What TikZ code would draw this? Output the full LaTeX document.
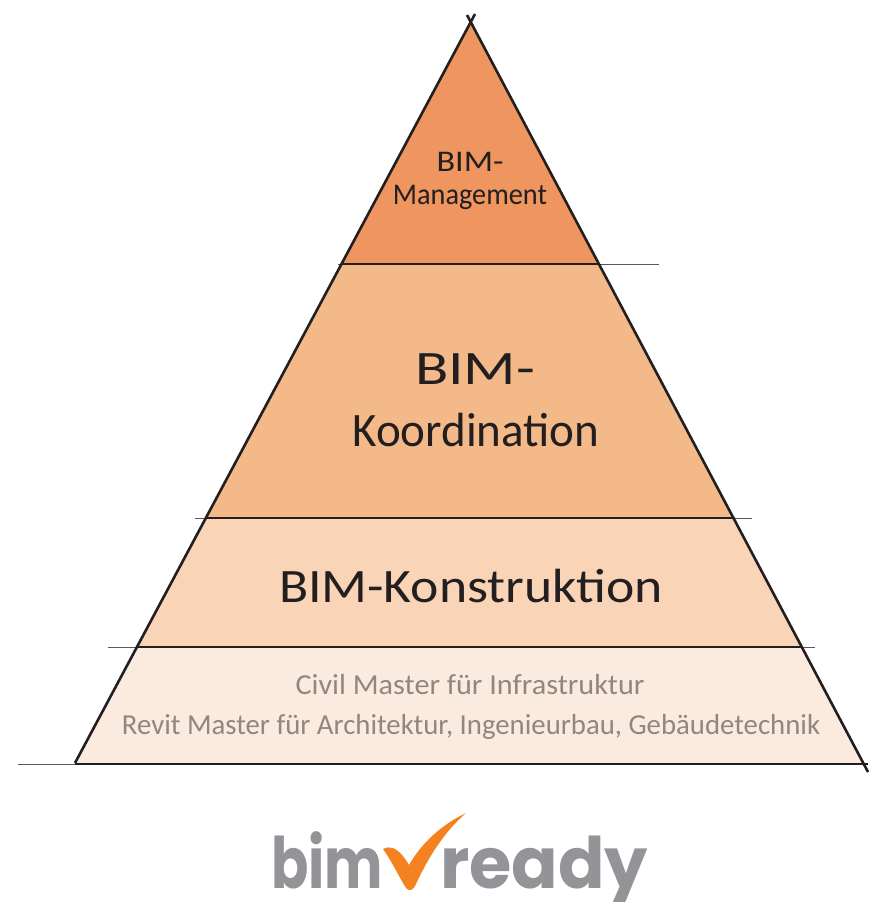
\documentclass[tikz,border=0pt]{standalone}
\usepackage{fontspec}
\setmainfont{Carlito}
\newfontfamily\logofont{Poppins}
\usepackage{tikz}
\definecolor{peakorange}{HTML}{EE9560}
\definecolor{midorange}{HTML}{F4B988}
\definecolor{lightorange}{HTML}{F9D4B6}
\definecolor{paleorange}{HTML}{FBEBDF}
\definecolor{logogray}{HTML}{929497}
\definecolor{logoorange}{HTML}{F58220}
\definecolor{basetext}{HTML}{8F8780}
\definecolor{pen}{HTML}{231F20}
\newcommand{\fitw}[2]{\resizebox{#1pt}{\height}{#2}}
\tikzset{l/.style={font=\fontsize{48}{48}\selectfont,text=pen,inner sep=0pt,anchor=base}}
\tikzset{m/.style={font=\fontsize{30}{30}\selectfont,text=pen,inner sep=0pt,anchor=base}}
\tikzset{s/.style={font=\fontsize{29}{29}\selectfont,text=basetext,inner sep=0pt,anchor=base}}
\tikzset{logo/.style={font=\logofont\bfseries\fontsize{71}{71}\selectfont,text=logogray,inner sep=0pt,anchor=base}}
\tikzset{side/.style={draw=pen,line width=2.6pt}}
\tikzset{rule/.style={draw=pen,line width=1.8pt}}
\tikzset{hair/.style={draw=pen!75,line width=1pt}}
\begin{document}
\begin{tikzpicture}[line join=round,x=1pt,y=-1pt]
\useasboundingbox (0,0) rectangle (868,902);
% tiers
\fill[peakorange](471,22)--(342,264)--(599,264)--cycle;
\fill[midorange](342,264)--(206,518)--(733,518)--(599,264)--cycle;
\fill[lightorange](206,518)--(137,647)--(801,647)--(733,518)--cycle;
\fill[paleorange](137,647)--(75,763)--(862,763)--(801,647)--cycle;
% overhangs
\draw[hair](338,264)--(659,264);
\draw[hair](195,518)--(752,518);
\draw[hair](108,647)--(815,647);
\draw[hair](18,764)--(868,764);
% rules
\draw[rule](342,264)--(599,264);
\draw[rule](206,518)--(733,518);
\draw[rule](137,647)--(801,647);
\draw[rule,line width=2.4pt](75,764)--(868,764);
% sides
\draw[side](475,14)--(75,763);
\draw[side](467,15)--(868,772);
% labels
\node[m] (mgmtA) at (470,171) {\fitw{67}{BIM-}};
\node[m] (mgmtB) at (470,204) {\fitw{154}{Management}};
\node[l] (koordA) at (475,384) {\fitw{120}{BIM-}};
\node[l] (koordB) at (476,446) {\fitw{247}{Koordination}};
\node[l] (konstr) at (471,602) {\fitw{384}{BIM-Konstruktion}};
\node[s] (civil) at (470,694) {\fitw{349}{Civil Master für Infrastruktur}};
\node[s] (revit) at (471,734) {\fitw{698}{Revit Master für Architektur, Ingenieurbau, Gebäudetechnik}};
% logo
\node[logo] (bim) at (327,888) {\fitw{112}{bim}};
\node[logo] (ready) at (544,888) {\fitw{208}{ready}};
\fill[logoorange](383,849)..controls (387,847) and (390,847) .. (393,848)..controls (400,851) and (405,858) .. (409,865)..controls (422,842) and (443,824) .. (466,813)..controls (444,832) and (428,858) .. (416,884)..controls (414,890) and (409,892) .. (406,888)..controls (398,875) and (391,860) .. (383,849)--cycle;
\end{tikzpicture}
\end{document}
